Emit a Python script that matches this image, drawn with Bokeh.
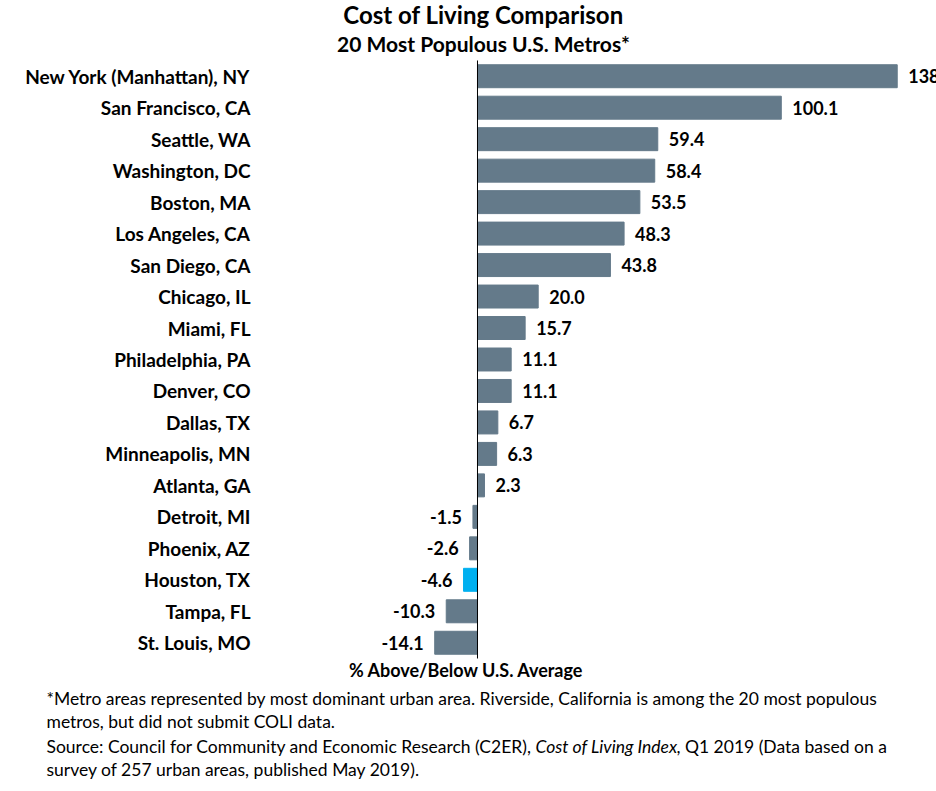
from bokeh.plotting import figure
from bokeh.models import ColumnDataSource, Label, Range1d
from bokeh.embed import file_html
from bokeh.resources import INLINE
from bokeh.core.properties import value

metros = ["New York (Manhattan), NY", "San Francisco, CA", "Seattle, WA", "Washington, DC",
          "Boston, MA", "Los Angeles, CA", "San Diego, CA", "Chicago, IL", "Miami, FL",
          "Philadelphia, PA", "Denver, CO", "Dallas, TX", "Minneapolis, MN", "Atlanta, GA",
          "Detroit, MI", "Phoenix, AZ", "Houston, TX", "Tampa, FL", "St. Louis, MO"]
values = [138.3, 100.1, 59.4, 58.4, 53.5, 48.3, 43.8, 20.0, 15.7, 11.1, 11.1, 6.7, 6.3, 2.3,
          -1.5, -2.6, -4.6, -10.3, -14.1]
highlight = "Houston, TX"

BAR = "#647A8A"
HI = "#00B0F0"
FONT = "Lato"

n = len(metros)
pos = list(range(n))
colors = [HI if m == highlight else BAR for m in metros]
labels = ["%.1f" % v for v in values]
offs = [11 if v >= 0 else -11 for v in values]
aligns = ["left" if v >= 0 else "right" for v in values]

src = ColumnDataSource(dict(y=pos, name=metros, x=values, color=colors, label=labels,
                            off=offs, align=aligns, zero=[0] * n))

W, H = 936, 791
# plot area: 31.474 px per category, 3.035 px per unit, zero line at x=477
p = figure(width=W, height=H, x_range=Range1d(-157.17, 151.24),
           y_range=Range1d(22.726, -2.406), output_backend="svg", toolbar_location=None,
           x_axis_location=None, y_axis_location=None,
           min_border_left=0, min_border_right=0, min_border_top=0, min_border_bottom=0)
p.outline_line_color = None
p.grid.visible = False

p.hbar(y="y", right="x", left=0, height=0.73, color="color", source=src)
p.segment(x0=0, y0=-0.5, x1=0, y1=n - 0.5, line_color="black", line_width=1)
p.text(x="x", y="y", text="label", x_offset="off", text_align="align",
       text_baseline="middle", text_font=value(FONT), text_font_style="bold",
       text_font_size="18px", text_color="black", source=src)
p.text(x="zero", y="y", text="name", x_offset=-227, text_align="right",
       text_baseline="middle", text_font=value(FONT), text_font_style="bold",
       text_font_size="19px", text_color="black", source=src)

def lab(txt, x_img, y_img, size, style="normal", align="left"):
    p.add_layout(Label(x=x_img, y=H - y_img, x_units="screen", y_units="screen",
                       text=txt, text_font=FONT, text_font_size=size,
                       text_font_style=style, text_align=align,
                       text_baseline="middle", text_color="black"))

lab("Cost of Living Comparison", 483, 14, "24px", "bold", "center")
lab("20 Most Populous U.S. Metros*", 483, 43, "21px", "bold", "center")
lab("% Above/Below U.S. Average", 466, 669, "18px", "bold", "center")

FS = "17.5px"
lab("*Metro areas represented by most dominant urban area. Riverside, California is among the 20 most populous",
    46, 698, FS)
lab("metros, but did not submit COLI data.", 46, 721, FS)
lab("Source: Council for Community and Economic Research (C2ER),", 46, 746, FS)
lab("Cost of Living Index", 535, 746, FS, "italic")
lab(", Q1 2019 (Data based on a", 676, 746, FS)
lab("survey of 257 urban areas, published May 2019).", 46, 769, FS)

open("out.html", "w").write(file_html(p, INLINE))
